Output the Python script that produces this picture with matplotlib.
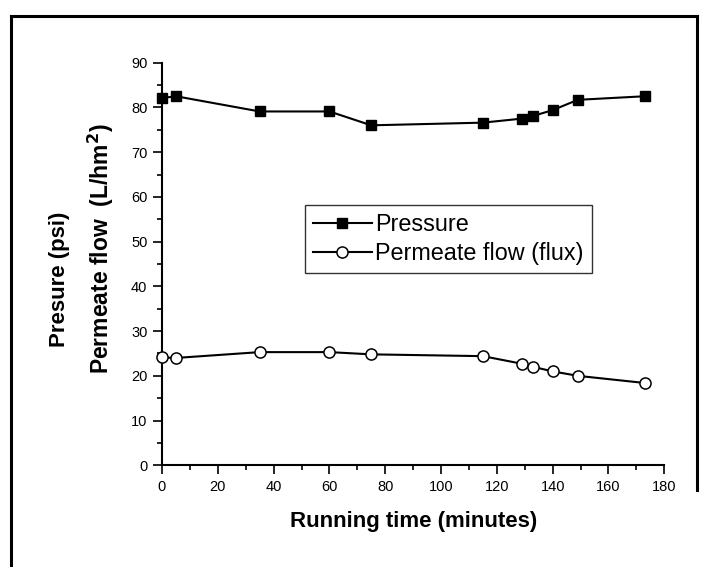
import matplotlib
matplotlib.use("Agg")
import matplotlib.pyplot as plt
from matplotlib.ticker import MultipleLocator
from matplotlib.lines import Line2D

plt.rcParams['font.family'] = ['Liberation Sans', 'DejaVu Sans']

time_pressure = [0, 5, 35, 60, 75, 115, 129, 133, 140, 149, 173]
pressure = [82.1, 82.5, 79.1, 79.1, 76.0, 76.6, 77.5, 78.1, 79.4, 81.7, 82.5]
time_flux = [0, 5, 35, 60, 75, 115, 129, 133, 140, 149, 173]
flux = [24.1, 24.0, 25.3, 25.3, 24.8, 24.4, 22.7, 22.0, 21.0, 20.0, 18.4]

W, H = 706, 567
fig = plt.figure(figsize=(W / 100, H / 100), dpi=100)
ax = fig.add_axes([162 / W, 1 - 465.3 / H, (664.3 - 162) / W, (465.3 - 62.7) / H])

ax.plot(time_pressure, pressure, color='black', lw=1.5, marker='s', ms=7.5,
        mfc='black', mec='black', label='Pressure', clip_on=False, zorder=3)
ax.plot(time_flux, flux, color='black', lw=1.5, marker='o', ms=8,
        mfc='white', mec='black', mew=1.1, label='Permeate flow (flux)', clip_on=False, zorder=3)

ax.set_xlim(0, 180)
ax.set_ylim(0, 90)
ax.xaxis.set_major_locator(MultipleLocator(20))
ax.xaxis.set_minor_locator(MultipleLocator(10))
ax.yaxis.set_major_locator(MultipleLocator(10))
ax.yaxis.set_minor_locator(MultipleLocator(5))
for s in ['top', 'right']:
    ax.spines[s].set_visible(False)
for s in ['left', 'bottom']:
    ax.spines[s].set_linewidth(1.5)
ax.tick_params(which='major', direction='out', length=6.5, width=1.2, labelsize=10.5, pad=4)
ax.tick_params(which='minor', direction='out', length=3.8, width=1.2)

ax.set_xlabel('Running time (minutes)', fontsize=16, fontweight='bold', labelpad=12)

fig.text(60 / W, 1 - 279 / H, 'Presure (psi)', rotation=90, fontsize=16,
         fontweight='bold', ha='center', va='center')
fig.text(101 / W, 1 - 249 / H, r'Permeate flow  (L/hm$^\mathbf{2}$)', rotation=90, fontsize=16.5,
         fontweight='bold', ha='center', va='center')

leg = ax.legend(loc='upper left', bbox_to_anchor=(305 / W, 1 - 205 / H),
                bbox_transform=fig.transFigure, fontsize=16.8, frameon=True,
                fancybox=False, edgecolor='black', handlelength=2.5,
                handletextpad=0.15, borderpad=0.35, labelspacing=0.25,
                borderaxespad=0)
leg.get_frame().set_linewidth(1.0)

# outer frame
fig.add_artist(Line2D([10.5 / W, 10.5 / W], [0, 1 - 15.5 / H], transform=fig.transFigure,
                      color='black', lw=2.2))
fig.add_artist(Line2D([10.5 / W, 697 / W], [1 - 15.5 / H, 1 - 15.5 / H], transform=fig.transFigure,
                      color='black', lw=2.2))
fig.add_artist(Line2D([697 / W, 697 / W], [1 - 15.5 / H, 1 - 490 / H], transform=fig.transFigure,
                      color='black', lw=2.2))

fig.savefig('out.png', dpi=100)
